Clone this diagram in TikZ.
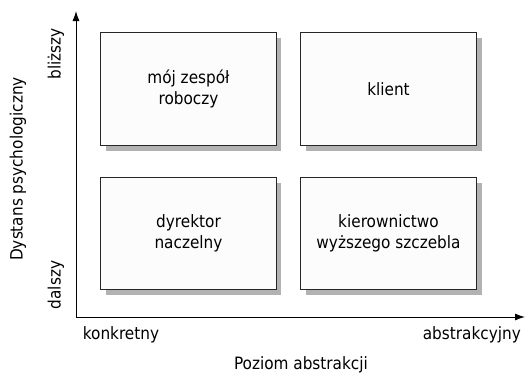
\documentclass[tikz,border=0pt]{standalone}
\usepackage{fontspec}
\setmainfont{DejaVu Sans Condensed}
\usetikzlibrary{arrows.meta}
\begin{document}
\begin{tikzpicture}[x=1pt,y=-1pt,
  font=\fontsize{17}{21}\selectfont,
  quad/.style={draw=black!85, line width=1pt, fill=black!1,
    minimum width=176pt, minimum height=113pt, align=center, inner sep=0pt,
    anchor=north west},
  shade/.style={fill=black!30, draw=none},
  axis/.style={line width=1pt, -{Latex[length=10pt,width=7pt]}},
  lbl/.style={inner sep=0pt}]
\useasboundingbox (0,0) rectangle (525,373);
% drop shadows under the four boxes
\fill[shade] (106,38) rectangle (281,151);
\fill[shade] (306,38) rectangle (482,151);
\fill[shade] (106,183) rectangle (281,295);
\fill[shade] (306,183) rectangle (482,295);
% quadrants
\node[quad] (team) at (100,32) {mój zespół\\roboczy};
\node[quad] (client) at (300,32) {klient};
\node[quad, minimum height=112pt] (ceo) at (100,177) {dyrektor\\naczelny};
\node[quad, minimum height=112pt] (board) at (300,177) {kierownictwo\\wyższego szczebla};
% axes
\coordinate (o) at (76,317);
\coordinate (ytop) at (76,11);
\coordinate (xend) at (525,317);
\draw[axis] (o) -- (ytop);
\draw[axis] (o) -- (xend);
% axis labels
\node[lbl, rotate=90] (near) at (56,54) {bliższy};
\node[lbl, rotate=90] (far) at (56,285) {dalszy};
\node[lbl, rotate=90] (ytitle) at (18,169) {Dystans psychologiczny};
\node[lbl] (concrete) at (121,335) {konkretny};
\node[lbl, anchor=east] (abstract) at (521,335) {abstrakcyjny};
\node[lbl] (xtitle) at (301,365) {Poziom abstrakcji};
\end{tikzpicture}
\end{document}
